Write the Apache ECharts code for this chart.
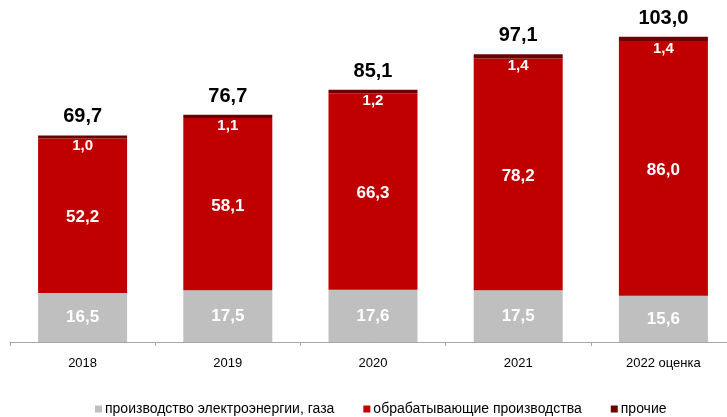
<!DOCTYPE html>
<html>
<head>
<meta charset="utf-8">
<script src="https://cdn.jsdelivr.net/npm/echarts@6/dist/echarts.min.js"></script>
<style>
html,body{margin:0;padding:0;background:#fff;overflow:hidden;}
#c{width:737px;height:417px;}
</style>
</head>
<body>
<div id="c"></div>
<script>
var categories = ['2018', '2019', '2020', '2021', '2022 оценка'];
var energy = [16.5, 17.5, 17.6, 17.5, 15.6];
var manufacturing = [52.2, 58.1, 66.3, 78.2, 86.0];
var other = [1.0, 1.1, 1.2, 1.4, 1.4];
var totals = [69.7, 76.7, 85.1, 97.1, 103.0];
var seriesNames = ['производство электроэнергии, газа', 'обрабатывающие производства', 'прочие'];

function fmt(p) {
  var v = Array.isArray(p.value) ? p.value[1] : p.value;
  return Number(v).toFixed(1).replace('.', ',');
}
var FONT = '"Liberation Sans", Arial, sans-serif';

var chart = echarts.init(document.getElementById('c'), null, {renderer: 'canvas'});
chart.setOption({
  animation: false,
  backgroundColor: '#ffffff',
  textStyle: {fontFamily: FONT},
  grid: {left: 10, top: 16, right: 1, height: 326, containLabel: false},
  legend: {
    data: seriesNames,
    left: 90,
    top: 397,
    icon: 'rect',
    itemWidth: 7,
    itemHeight: 7,
    itemGap: 29,
    textStyle: {fontFamily: FONT, fontSize: 14, color: '#000', padding: [0, 0, 0, -2]}
  },
  xAxis: {
    type: 'category',
    data: categories,
    axisLine: {lineStyle: {color: '#A6A6A6', width: 1}},
    axisTick: {show: true, length: 4, lineStyle: {color: '#A6A6A6'}},
    axisLabel: {color: '#000', fontSize: 13, fontFamily: FONT, margin: 15}
  },
  yAxis: {
    type: 'value',
    min: 0,
    max: 110,
    show: false,
    splitLine: {show: false}
  },
  series: [
    {
      name: seriesNames[0],
      type: 'bar',
      stack: 'total',
      barWidth: 89,
      data: energy,
      itemStyle: {color: '#BFBFBF'},
      label: {show: true, position: 'inside', formatter: fmt, color: '#fff', fontWeight: 'bold', fontSize: 17, fontFamily: FONT}
    },
    {
      name: seriesNames[1],
      type: 'bar',
      stack: 'total',
      barWidth: 89,
      data: manufacturing,
      itemStyle: {color: '#C00000'},
      label: {show: true, position: 'inside', offset: [0, 2], formatter: fmt, color: '#fff', fontWeight: 'bold', fontSize: 17, fontFamily: FONT}
    },
    {
      name: seriesNames[2],
      type: 'bar',
      stack: 'total',
      barWidth: 89,
      data: other,
      itemStyle: {color: '#6B0000'},
      label: {show: true, position: 'bottom', distance: 0, formatter: fmt, color: '#fff', fontWeight: 'bold', fontSize: 15, fontFamily: FONT}
    },
    {
      name: 'итого',
      type: 'scatter',
      data: totals,
      symbol: 'rect',
      symbolSize: 1,
      itemStyle: {color: 'rgba(255,255,255,0)', opacity: 1},
      silent: true,
      label: {show: true, position: 'top', distance: 8, formatter: fmt, color: '#000', opacity: 1, fontWeight: 'bold', fontSize: 20, fontFamily: FONT}
    }
  ]
});
</script>
</body>
</html>
